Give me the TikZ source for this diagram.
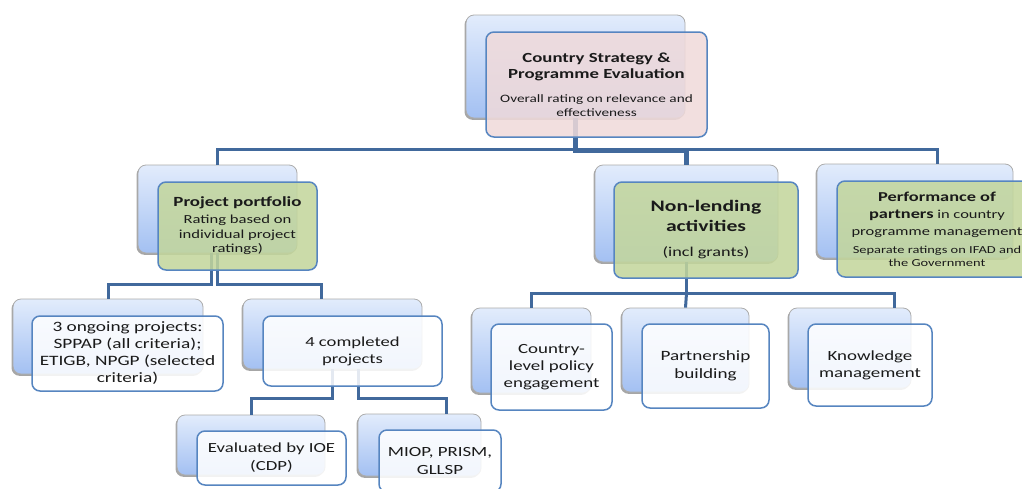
\documentclass[tikz,border=0pt]{standalone}
\usepackage{fontspec}
\setmainfont[FakeStretch=1.35]{Carlito}
\usetikzlibrary{shadows}
\definecolor{conn}{HTML}{41699C}
\definecolor{frontline}{HTML}{5685C0}
\definecolor{backtop}{HTML}{E2ECFC}
\definecolor{backbot}{HTML}{A3C0F2}
\definecolor{pinkfill}{HTML}{F0DADA}
\definecolor{greenfill}{HTML}{C3D69B}
\definecolor{txt}{HTML}{1A1A1A}
\tikzset{
  backbox/.style={draw=gray!65, line width=0.8pt, rounded corners=8pt,
    top color=backtop, bottom color=backbot, inner sep=0pt,
    drop shadow={shadow xshift=-1.5pt, shadow yshift=-1.8pt, opacity=0.35, fill=black}},
  frontbox/.style={draw=frontline, line width=1.5pt, rounded corners=8pt,
    fill opacity=0.86, text opacity=1, align=center, inner sep=0pt, text=txt},
  conn/.style={draw=conn, line width=3pt},
  bb/.style args={#1,#2}{backbox, minimum width=#1pt, minimum height=#2pt},
  fb/.style args={#1,#2}{frontbox, minimum width=#1pt, minimum height=#2pt},
}
\begin{document}
\begin{tikzpicture}[x=1pt,y=-1pt]
\useasboundingbox (0,0) rectangle (1022,488);
\clip (0,0) rectangle (1022,488);
\fill[white] (0,0) rectangle (1022,488);

% back boxes
\node[bb={219,103}] (cspeB) at (575.5,66.5) {};
\node[bb={159,88}]  (ppB)   at (217.5,209) {};
\node[bb={183,97}]  (nlB)   at (686.5,213.5) {};
\node[bb={196,94}]  (pfB)   at (915,211) {};
\node[bb={190,75}]  (ogB)   at (108,336.5) {};
\node[bb={179,70}]  (cpB)   at (332.5,334) {};
\node[bb={148,60}]  (evB)   at (251,445) {};
\node[bb={123,62}]  (miB)   at (419.5,445) {};
\node[bb={119,85}]  (clB)   at (531.5,350.5) {};
\node[bb={127,84}]  (pbB)   at (685.5,350) {};
\node[bb={122,80}]  (kmB)   at (850,348) {};

% connectors
\coordinate (j0) at (577,149);
\draw[conn] (ppB.north) |- (j0) -| ([xshift=22pt]pfB.north);
\draw[conn, line width=4.5pt] (cspeB.south) |- (nlB.north |- 0,151) -- (nlB.north);
\draw[conn] ([xshift=-6pt]ppB.south) -- ++(0,31) -| (ogB.north);
\draw[conn] (ppB.south) -- ++(0,31) -| ([xshift=-11.5pt]cpB.north);
\draw[conn] (cpB.south) -- ++(0,29) -| (evB.north);
\draw[conn] ([xshift=26pt]cpB.south) -- ++(0,29) -| ([xshift=26.5pt]miB.north);
\draw[conn] (nlB.south) -- ++(0,31) coordinate (j3) -| (clB.north);
\draw[conn] (j3) -| ([xshift=44pt]kmB.north);
\draw[conn] (j3) -- (pbB.north);

% front boxes
\node[fb={221,105}, fill=pinkfill, font=\fontsize{11.3}{16}\selectfont] (cspe) at (596.5,84.5)
  {{\bfseries\fontsize{13.9}{16}\selectfont Country Strategy \&}\\
   {\bfseries\fontsize{13.9}{16}\selectfont Programme Evaluation}\\[8pt]
   Overall rating on relevance and\\[-2pt]
   effectiveness};
\node[fb={159,88}, fill=greenfill, font=\fontsize{12.3}{15}\selectfont] (pp) at (237.5,226)
  {{\bfseries\fontsize{14}{15}\selectfont Project portfolio}\\[2pt]
   Rating based on\\individual project\\[-1pt]ratings)};
\node[fb={184,96}, fill=greenfill, font=\fontsize{13.5}{20}\selectfont] (nl) at (706,230)
  {{\bfseries\fontsize{16}{20}\selectfont Non-lending}\\
   {\bfseries\fontsize{16}{20}\selectfont activities}\\[5pt]
   (incl grants)};
\node[fb={200,96}, fill=greenfill, font=\fontsize{12.2}{17}\selectfont] (pf) at (937,229)
  {{\bfseries\fontsize{13.6}{17}\selectfont Performance of}\\
   {\bfseries\fontsize{13.6}{17}\selectfont partners} in country\\
   programme management\\[1pt]
   {\fontsize{10.7}{13}\selectfont Separate ratings on IFAD and}\\[-4pt]
   {\fontsize{10.7}{13}\selectfont the Government}};
\node[fb={191,75}, fill=white, font=\fontsize{14.3}{17}\selectfont] (og) at (127.5,353.5)
  {3 ongoing projects:\\SPPAP (all criteria);\\ETIGB, NPGP (selected\\criteria)};
\node[fb={179,70}, fill=white, font=\fontsize{13.8}{17}\selectfont] (cp) at (352.5,351)
  {4 completed\\projects};
\node[fb={149,54}, fill=white, font=\fontsize{13.9}{18}\selectfont] (ev) at (271.5,458)
  {Evaluated by IOE\\(CDP)};
\node[fb={122,62}, fill=white, font=\fontsize{14}{18}\selectfont] (mi) at (440,461)
  {MIOP, PRISM,\\GLLSP};
\node[fb={121,86}, fill=white, font=\fontsize{14}{17}\selectfont] (cl) at (551.5,367)
  {Country-\\level policy\\engagement};
\node[fb={127,84}, fill=white, font=\fontsize{14.2}{18}\selectfont] (pb) at (705.5,366)
  {Partnership\\building};
\node[fb={124,82}, fill=white, font=\fontsize{14}{17}\selectfont] (km) at (870,365)
  {Knowledge\\management};
\end{tikzpicture}
\end{document}
